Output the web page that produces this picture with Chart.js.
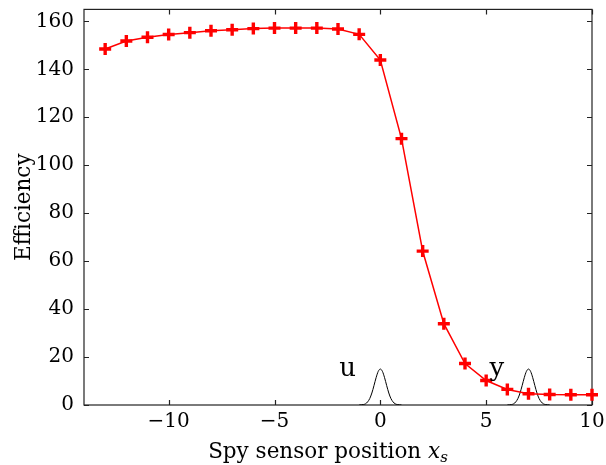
<!DOCTYPE html>
<html>
<head>
<meta charset="utf-8">
<script src="https://cdn.jsdelivr.net/npm/chart.js@4.4.1/dist/chart.umd.min.js"></script>
<style>
html, body { margin: 0; padding: 0; background: #fff; }
</style>
</head>
<body>
<canvas id="effChart" width="606" height="465"></canvas>
<script>
// sensor positions and measured efficiency
const positions = [-13, -12, -11, -10, -9, -8, -7, -6, -5, -4, -3, -2, -1, 0, 1, 2, 3, 4, 5, 6, 7, 8, 9, 10];
const efficiency = [148.5, 151.8, 153.4, 154.5, 155.3, 156.1, 156.5, 157.0, 157.2, 157.2, 157.2, 156.8, 154.6, 143.9, 111.1, 64.2, 33.9, 17.3, 10.2, 6.5, 4.7, 4.4, 4.3, 4.3];

// pulse shape drawn under the labels u and y (offset from centre, height)
const pulseOffsets = [-1.0, -0.8, -0.7, -0.6, -0.5, -0.4, -0.3, -0.2, -0.1, 0, 0.1, 0.2, 0.3, 0.4, 0.5, 0.6, 0.7, 0.8, 1.0];
const pulseHeights = [0, 0.2, 0.5, 1.3, 2.7, 5.0, 8.1, 11.4, 14.0, 15.0, 14.0, 11.4, 8.1, 5.0, 2.7, 1.3, 0.5, 0.2, 0];
const pulseCentres = [0, 7];

const pulseLabels = ["u", "y"];
const pulseLabelX = [-1.55, 5.5];
const pulseLabelY = [12, 12];

const xTicks = [-10, -5, 0, 5, 10];
const yTicks = [0, 20, 40, 60, 80, 100, 120, 140, 160];

const serif = '"DejaVu Serif", "Liberation Serif", serif';

const effPoints = positions.map((p, i) => ({ x: p, y: efficiency[i] }));

const pulseSets = pulseCentres.map((c) => ({
    data: pulseOffsets.map((o, i) => ({ x: c + o, y: pulseHeights[i] })),
    borderColor: "#000",
    borderWidth: 1,
    pointRadius: 0,
    cubicInterpolationMode: "monotone",
    fill: false,
    order: 2,
}));

const frameTicks = {
    id: "frameTicks",
    beforeDatasetsDraw(chart) {
        const { ctx, chartArea: a, scales } = chart;
        const x = scales.x, y = scales.y;
        ctx.save();
        ctx.strokeStyle = "#222";
        ctx.lineWidth = 1.2;
        ctx.beginPath();
        x.ticks.forEach((t) => {
            const px = Math.round(x.getPixelForValue(t.value)) + 0.5;
            ctx.moveTo(px, a.bottom);
            ctx.lineTo(px, a.bottom - 5);
            ctx.moveTo(px, a.top);
            ctx.lineTo(px, a.top + 5);
        });
        y.ticks.forEach((t) => {
            const py = Math.round(y.getPixelForValue(t.value)) + 0.5;
            ctx.moveTo(a.left, py);
            ctx.lineTo(a.left + 5, py);
            ctx.moveTo(a.right, py);
            ctx.lineTo(a.right - 5, py);
        });
        ctx.stroke();
        ctx.strokeRect(a.left, a.top, a.right - a.left, a.bottom - a.top);
        ctx.restore();
    },
    afterDatasetsDraw(chart) {
        const { ctx, chartArea: a, scales } = chart;
        ctx.save();
        ctx.fillStyle = "#000";
        ctx.textAlign = "center";
        ctx.textBaseline = "alphabetic";
        ctx.font = "26px " + serif;
        pulseLabels.forEach((txt, i) => {
            ctx.fillText(txt, scales.x.getPixelForValue(pulseLabelX[i]), scales.y.getPixelForValue(pulseLabelY[i]));
        });

        // x axis label with italic x and subscript s
        const main = "Spy sensor position ";
        ctx.textAlign = "left";
        ctx.font = "21.5px " + serif;
        const w1 = ctx.measureText(main).width;
        ctx.font = "italic 21.5px " + serif;
        const w2 = ctx.measureText("x").width;
        ctx.font = "italic 15px " + serif;
        const w3 = ctx.measureText("s").width;
        const total = w1 + w2 + w3;
        const sx = (a.left + a.right) / 2 - total / 2 - 10;
        const base = 458;
        ctx.font = "21.5px " + serif;
        ctx.fillText(main, sx, base);
        ctx.font = "italic 21.5px " + serif;
        ctx.fillText("x", sx + w1, base);
        ctx.font = "italic 15px " + serif;
        ctx.fillText("s", sx + w1 + w2, base + 4);
        ctx.restore();
    },
};

new Chart(document.getElementById("effChart"), {
    type: "line",
    data: {
        datasets: [
            {
                label: "Efficiency",
                data: effPoints,
                borderColor: "#ff0000",
                borderWidth: 1.5,
                pointStyle: "cross",
                pointRadius: 6,
                pointBorderWidth: 3.4,
                pointBorderColor: "#ff0000",
                tension: 0,
                clip: false,
                order: 1,
            },
            ...pulseSets,
        ],
    },
    options: {
        responsive: false,
        animation: false,
        layout: { padding: { top: 5, right: 14, left: 0, bottom: 0 } },
        plugins: {
            legend: { display: false },
            tooltip: { enabled: false },
        },
        scales: {
            x: {
                type: "linear",
                min: -14,
                max: 10,
                grid: { display: false, drawTicks: false },
                border: { display: false },
                afterBuildTicks: (s) => { s.ticks = xTicks.map((v) => ({ value: v })); },
                afterFit: (s) => {
                    s.height = 60;
                    s.paddingLeft = 0;
                    s.paddingRight = 0;
                },
                ticks: {
                    color: "#000",
                    padding: 5,
                    maxRotation: 0,
                    font: { family: serif, size: 20 },
                    callback: (v) => String(v).replace("-", "\u2212"),
                },
            },
            y: {
                min: 0,
                max: 165,
                grid: { display: false, drawTicks: false },
                border: { display: false },
                afterBuildTicks: (s) => { s.ticks = yTicks.map((v) => ({ value: v })); },
                afterFit: (s) => {
                    s.width = 84;
                    s.paddingTop = 0;
                    s.paddingBottom = 0;
                },
                title: {
                    display: true,
                    text: "Efficiency",
                    color: "#000",
                    font: { family: serif, size: 21.5 },
                    padding: { top: 12, bottom: 0 },
                },
                ticks: {
                    color: "#000",
                    padding: 10,
                    font: { family: serif, size: 20 },
                },
            },
        },
    },
    plugins: [frameTicks],
});
</script>
</body>
</html>
